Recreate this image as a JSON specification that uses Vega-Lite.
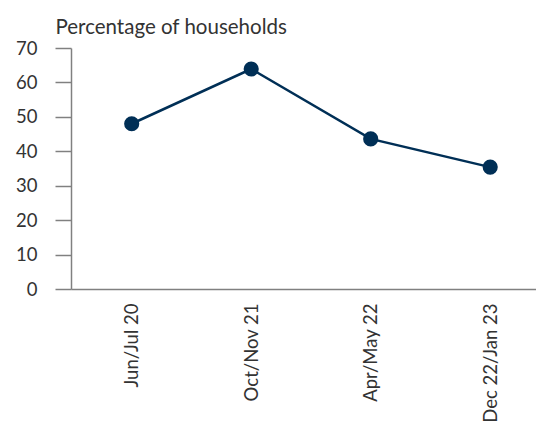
{
  "$schema": "https://vega.github.io/schema/vega-lite/v6.json",
  "autosize": "none",
  "width": 465,
  "height": 241,
  "padding": {"left": 71, "top": 48, "right": 0, "bottom": 136},
  "background": "white",
  "config": {
    "view": {"stroke": null},
    "font": "Lato",
    "axis": {"grid": false, "domainColor": "#808080", "tickColor": "#808080", "labelColor": "#333333", "titleColor": "#333333", "labelFont": "Lato", "titleFont": "Lato"}
  },
  "data": {
    "values": [
      {"period": "Jun/Jul 20", "value": 48.0},
      {"period": "Oct/Nov 21", "value": 63.9},
      {"period": "Apr/May 22", "value": 43.6},
      {"period": "Dec 22/Jan 23", "value": 35.4}
    ]
  },
  "encoding": {
    "x": {
      "field": "period", "type": "nominal", "sort": null,
      "scale": {"type": "point", "padding": 0.4456, "align": 0.57},
      "axis": {"title": null, "labelAngle": -90, "ticks": false, "labelPadding": 14, "labelFontSize": 18.5, "domainWidth": 1.5}
    },
    "y": {
      "field": "value", "type": "quantitative",
      "scale": {"domain": [0, 70], "nice": false},
      "axis": {
        "values": [0, 10, 20, 30, 40, 50, 60, 70],
        "tickSize": 16, "labelPadding": 18, "labelFontSize": 18.5, "domainWidth": 1.5, "tickWidth": 1.5,
        "title": "Percentage of households", "titleAngle": 0, "titleAlign": "left", "titleBaseline": "alphabetic",
        "titleX": -16, "titleY": -15, "titleFontSize": 20.5, "titleFontWeight": "normal"
      }
    }
  },
  "layer": [
    {"mark": {"type": "line", "color": "#002F56", "strokeWidth": 2.5}},
    {"mark": {"type": "point", "filled": true, "opacity": 1, "color": "#002F56", "size": 230}}
  ]
}
